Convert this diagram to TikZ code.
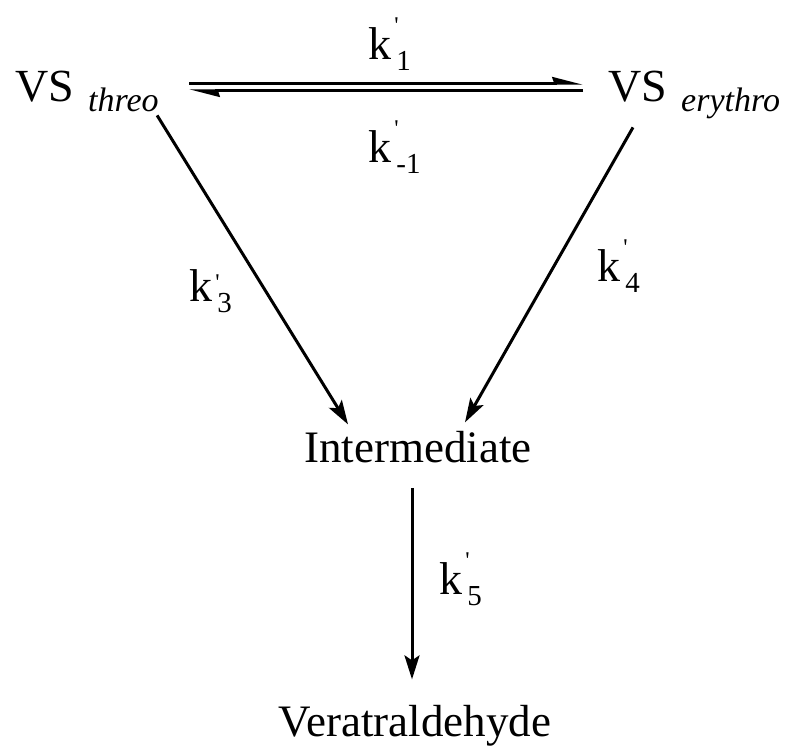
\documentclass[tikz,border=0pt]{standalone}
\usepackage{fontspec}
\setmainfont{Liberation Serif}
\usetikzlibrary{arrows.meta,positioning}

% rate constant k' with subscript, optional height of the prime
\newcommand{\rconst}[2][13pt]{k\rlap{\kern1.5pt\raisebox{#1}{\fontsize{12}{12}\selectfont\textquotesingle}}\kern2.5pt\raisebox{-5.5pt}{\fontsize{14.5}{15}\selectfont #2}}

\begin{document}
\begin{tikzpicture}[
    x=0.5pt, y=-0.5pt,
    species/.style={inner sep=0pt, font=\fontsize{22.5}{24}\selectfont},
    isomer/.style={inner sep=0pt, font=\fontsize{23}{24}\selectfont, text height=15pt, text depth=0pt, anchor=base west},
    rate/.style={inner sep=0pt, font=\fontsize{23}{24}\selectfont, anchor=base west},
    react/.style={-{Stealth[length=12pt, width=7.5pt, inset=2.5pt]}, line width=1.5pt},
    half/.style={-{Stealth[left, length=13pt, width=6.5pt, inset=1pt]}, line width=1.2pt},
]
\useasboundingbox (0,0) rectangle (788,748);

% Species
\node[isomer] (threo) at (15,102) {VS\hspace{7pt}\raisebox{-5pt}{\fontsize{17}{17}\selectfont\itshape threo}};
\node[isomer] (erythro) at (608,102) {VS\hspace{7pt}\raisebox{-5pt}{\fontsize{17}{17}\selectfont\itshape erythro}};
\node[species, anchor=base] (inter) at (418,463) {Intermediate};
\node[species, anchor=base] (vera) at (415,737) {Veratraldehyde};

% Rate constants
\node[rate] (k1) at (368,60) {\rconst{1}};
\node[rate] (km1) at (368,163) {\rconst{-1}};
\node[rate] (k3) at (189,302) {\rconst[5.5pt]{3}};
\node[rate] (k4) at (597,282) {\rconst{4}};
\node[rate] (k5) at (439,595) {\rconst{5}};

% Equilibrium
\draw[half, shorten <=15pt, shorten >=12.5pt] ([yshift=1.75pt]threo.east) -- ([yshift=1.75pt]erythro.west);
\draw[half, shorten <=12.5pt, shorten >=15pt] ([yshift=-1.75pt]erythro.west) -- ([yshift=-1.75pt]threo.east);

% Reactions
\draw[react] ([shift={(-2,13)}]threo.south east) -- ([shift={(-70,-7)}]inter.north);
\draw[react] ([shift={(25,25)}]erythro.south west) -- ([shift={(47,-9)}]inter.north);
\draw[react] ([shift={(-6,24)}]inter.south) -- ([shift={(-3,-26)}]vera.north);

\end{tikzpicture}
\end{document}
